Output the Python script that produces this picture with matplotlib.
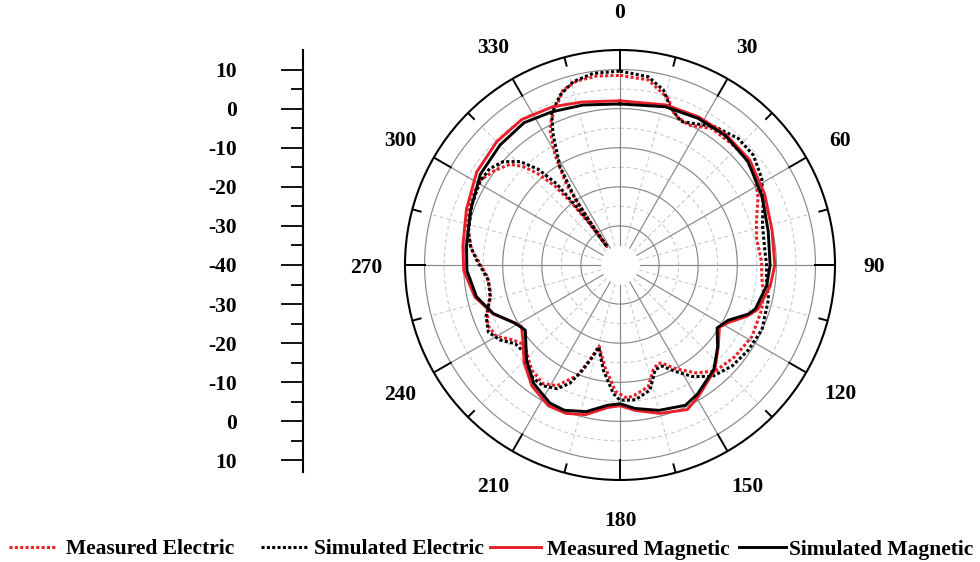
import numpy as np
import matplotlib
matplotlib.use("Agg")
import matplotlib.pyplot as plt
from matplotlib.lines import Line2D

# ---------------- data (angle in degrees, level in dB) ----------------
sim_mag_ang = [0, 16, 28, 39, 51, 64, 77, 90, 98, 108, 111, 117, 123, 130, 138, 149, 155,
               165, 174, 180, 185, 193, 201, 207, 216, 224.5, 235.5, 241, 249, 257.5, 268,
               277, 290, 303, 315, 326, 336, 347, 360]
sim_mag_db = [1.2, 2.1, 2.5, 2.7, 2.1, 0.4, -1.1, -1.6, -2.1, -3.6, -4.9, -8.9, -10.4, -7.4,
              -4.1, -1.5, -0.4, -1.5, -3.1, -4.5, -4.0, -1.5, -0.2, -0.4, -2.5, -5.9, -10.6,
              -9.3, -5.3, -2.4, -0.8, -0.45, 0.7, 2.6, 3.4, 3.9, 2.9, 2.0, 1.2]

meas_mag_ang = [0, 16, 28, 39, 51, 64, 77, 90, 98, 108, 112, 118, 122, 130, 138, 149, 155,
                165, 174, 180, 185, 193, 200, 207, 216, 224.5, 232, 238, 243, 249, 257.5,
                268, 277, 290, 303, 315, 326, 337, 347, 360]
meas_mag_db = [2.0, 2.6, 2.9, 3.0, 2.7, 1.2, -0.1, -0.4, -1.2, -3.0, -5.0, -8.6, -10.0, -7.2,
               -3.8, -0.9, 0.8, -0.7, -2.6, -4.0, -3.4, -0.7, 0.4, 0.4, -1.7, -5.0, -8.5,
               -10.3, -8.5, -5.2, -2.0, 0.0, 0.5, 1.8, 3.7, 4.6, 4.9, 4.0, 2.8, 2.0]

sim_el_ang = [0, 8.5, 14, 17.5, 23, 29, 34.5, 43, 50.5, 58.5, 66, 74, 85, 90, 96, 103, 114.5,
              123.5, 132, 140.5, 147, 152.5, 157.5, 161.5, 166.5, 173.5, 180, 183, 189, 194.5,
              196.5, 199.5, 203, 207, 212.5, 217.5, 222.5, 228, 233, 238, 243, 249, 256,
              263.5, 272, 277, 282.5, 292, 301, 306.5, 311.5, 316, 319.5, 322, 323, 324,
              324.8, 325.3, 326, 328.6, 333, 335.8, 340.6, 345.7, 352, 360]
sim_el_db = [9.6, 8.7, 6.1, 2.5, -0.1, 1.2, 2.9, 4.3, 4.2, 2.5, 0.1, -2.1, -2.75, -2.5, -2.3,
             -1.0, -0.1, -0.6, -1.4, -3.0, -6.0, -9.3, -12.0, -11.7, -7.1, -5.3, -5.4, -7.1,
             -12.8, -18.3, -15.6, -11.5, -7.1, -4.5, -3.35, -3.5, -4.7, -6.8, -6.5, -3.8,
             -2.2, -3.3, -5.8, -6.1, -3.3, -1.5, -0.3, 0.9, 1.7, 1.45, -0.1, -3.2, -7.8,
             -13.6, -20.2, -26.0, -34.3, -26.0, -19.5, -10.5, -2.2, 2.6, 6.1, 8.4, 9.5, 9.6]

meas_el_ang = [0, 8.7, 16, 20, 26, 34, 47, 56, 64, 72, 79, 89, 95, 101, 107.5, 118.5, 128.5,
               138, 145, 152, 157, 159, 162.5, 167, 173.5, 177, 182, 188.5, 194.5, 197, 201,
               207.5, 213, 220, 224.5, 230, 235, 240, 245.5, 251, 258, 265.5, 271, 276,
               284.5, 293, 301, 307, 312.5, 315.5, 318, 320.5, 322, 323.5, 324.6, 325.4,
               326.3, 329.4, 332.6, 335, 342, 346.8, 353, 360]
meas_el_db = [8.5, 7.9, 4.4, 0.9, -0.15, 2.1, 2.5, 1.5, -0.7, -3.3, -4.4, -3.75, -3.6, -2.6,
              -2.0, -1.6, -2.4, -3.5, -6.3, -10.0, -12.8, -13.0, -11.8, -8.0, -6.5, -5.9,
              -7.6, -13.7, -18.6, -15.4, -9.8, -5.2, -3.8, -4.9, -6.5, -8.2, -6.6, -3.5,
              -2.8, -4.2, -6.2, -5.8, -4.0, -1.8, 0.5, 1.65, 1.9, 0.16, -1.85, -4.7, -8.5,
              -13.8, -19.5, -26.0, -34.2, -25.2, -15.4, -7.3, -1.1, 1.4, 7.1, 8.35, 8.7, 8.5]

series_names = ["Measured Electric", "Simulated Electric", "Measured Magnetic", "Simulated Magnetic"]
theta_labels = [0, 30, 60, 90, 120, 150, 180, 210, 240, 270, 300, 330]
scale_ticks = [-50, -40, -30, -20, -10, 0, 10, 20, 30, 40, 50]
scale_labels = ["10", "0", "-10", "-20", "-30", "-40", "-30", "-20", "-10", "0", "10"]

# ---------------- style / layout ----------------
plt.rcParams["font.family"] = ["Liberation Serif", "DejaVu Serif"]
plt.rcParams["font.weight"] = "bold"

W, H, DPI = 980, 562, 100
CX, CY, RPX = 620, 265, 215
RMIN, RMAX = -40, 15
PX_PER_DB = RPX / (RMAX - RMIN)
RED = "#e8202a"
GRID = "#888888"
LGRID = "#c4c4c4"
FS = 15.5

fig = plt.figure(figsize=(W / DPI, H / DPI), dpi=DPI)
ax = fig.add_axes([(CX - RPX) / W, (H - CY - RPX) / H, 2 * RPX / W, 2 * RPX / H],
                  projection="polar")
ax.set_theta_zero_location("N")
ax.set_theta_direction(-1)
ax.set_rlim(RMIN, RMAX)
ax.set_xticks([])
ax.set_yticks([])
ax.grid(False)
ax.spines["polar"].set_color("black")
ax.spines["polar"].set_linewidth(1.5)

th = np.linspace(0, 2 * np.pi, 721)
for r in [-30, -20, -10, 0, 10]:
    ax.plot(th, np.full_like(th, r), color=GRID, lw=0.85, zorder=1)
for r in [-25, -15, -5, 5]:
    ax.plot(th, np.full_like(th, r), color=LGRID, lw=0.7, ls=(0, (4, 3)), zorder=1)
for a in range(0, 360, 30):
    t = np.deg2rad(a)
    ax.plot([t, t], [-35, 10], color=GRID, lw=0.85, zorder=1)
    ax.plot([t, t], [10, 15], color="black", lw=1.4, zorder=2)
for a in range(15, 360, 30):
    t = np.deg2rad(a)
    ax.plot([t, t], [-35, 10], color=LGRID, lw=0.7, ls=(0, (4, 3)), zorder=1)
    ax.plot([t, t], [12.8, 15], color="black", lw=1.4, zorder=2)

dot = (0, (1.0, 0.75))
ax.plot(np.deg2rad(meas_el_ang), meas_el_db, color=RED, lw=2.2, ls=dot, zorder=3)
ax.plot(np.deg2rad(sim_el_ang), sim_el_db, color="black", lw=2.2, ls=dot, zorder=3)
ax.plot(np.deg2rad(meas_mag_ang), meas_mag_db, color=RED, lw=2.1, zorder=4)
ax.plot(np.deg2rad(sim_mag_ang), sim_mag_db, color="black", lw=2.1, zorder=5)

lab_r = RMIN + 254 / PX_PER_DB
for a in theta_labels:
    ax.text(np.deg2rad(a), lab_r, str(a), ha="center", va="center_baseline",
            fontsize=FS, fontweight="bold", clip_on=False)

# ---------------- left scale ----------------
top_px, bot_px = 50, 472
axs = fig.add_axes([303 / W, (H - bot_px) / H, 0.05, (bot_px - top_px) / H])
axs.set_ylim(-(bot_px - CY) / PX_PER_DB, (CY - top_px) / PX_PER_DB)
axs.patch.set_visible(False)
for s in ["top", "right", "bottom"]:
    axs.spines[s].set_visible(False)
axs.spines["left"].set_linewidth(1.5)
axs.set_xticks([])
axs.set_yticks(scale_ticks)
axs.set_yticklabels(scale_labels)
axs.set_yticks([t + 5 for t in scale_ticks[:-1]], minor=True)
axs.tick_params(axis="y", which="major", length=15.8, width=1.3, direction="out",
                pad=31.5, labelsize=FS)
axs.tick_params(axis="y", which="minor", length=8.6, width=1.3, direction="out")

# ---------------- legend ----------------
ly = 1 - 547 / H
leg = [(series_names[0], RED, dot, 9, 57, 66),
       (series_names[1], "black", dot, 261, 308, 314),
       (series_names[2], RED, "-", 490, 541, 547),
       (series_names[3], "black", "-", 739, 786, 789)]
for name, col, ls, x0, x1, xt in leg:
    fig.add_artist(Line2D([x0 / W, x1 / W], [ly, ly], transform=fig.transFigure,
                          color=col, lw=2.2 if ls == dot else 2.1, ls=ls))
    fig.text(xt / W, ly, name, ha="left", va="center_baseline", fontsize=FS,
             fontweight="bold")

fig.savefig("out.png", dpi=DPI)
